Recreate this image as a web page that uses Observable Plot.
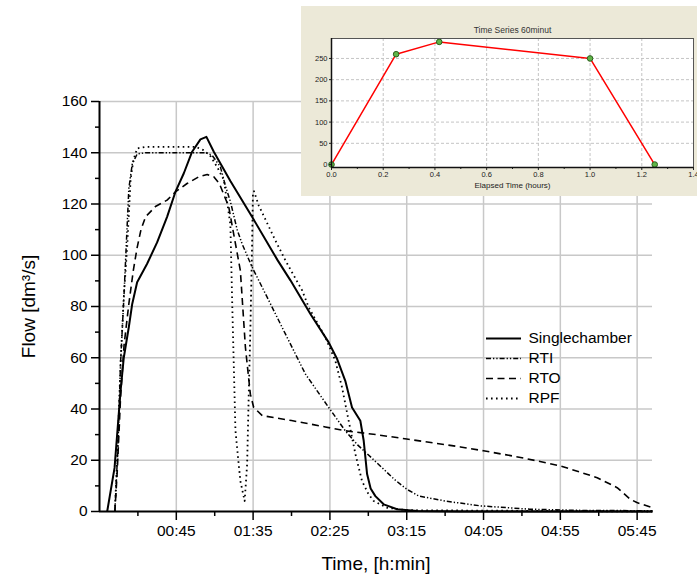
<!DOCTYPE html>
<html><head><meta charset="utf-8">
<script src="https://cdn.jsdelivr.net/npm/d3@7"></script>
<script src="https://cdn.jsdelivr.net/npm/@observablehq/plot@0.6"></script>
<style>
html,body{margin:0;padding:0;background:#fff;overflow:hidden;}
#wrap{position:relative;width:697px;height:575px;overflow:hidden;}
#wrap > svg{position:absolute;overflow:visible;}
</style></head><body><div id="wrap"></div>
<script>
// ---- data: [minutes, flow dm3/s] ----
const singlechamber = [[0,0],[4.8,17],[8.7,47],[10.8,60],[14.1,72],[16.3,81],[19.5,89.5],[26,96.7],[32.5,105],[39,115],[44.4,124.7],[49.9,132],[55.3,140.4],[60.7,145.2],[64.6,146.2],[69.4,140.4],[80.2,129],[94.3,115],[111,98],[119.3,90.2],[132.3,77.1],[144.2,66],[149.7,59.5],[155,51],[159.4,40.6],[164.8,35.4],[167,27.6],[169.2,14.6],[171.5,9],[174.6,6],[180,2.8],[188.7,0.9],[201.7,0.2],[230,0],[355,0]];
const rti = [[5,0],[7,25],[8.7,58],[11,85],[12.5,105],[14.1,126],[16.3,135.5],[19.5,139.5],[25,140],[64,140],[68.3,139],[73.7,134.5],[77,127],[80.2,121],[84.6,110],[87.8,104.5],[94.3,95.4],[103,85],[116,69.3],[129,53.7],[144.2,40.6],[155,31.5],[163,26],[172,21],[180,16.5],[187,12.5],[195,8.7],[203,6],[221,4],[243,2.2],[275,0.9],[310,0.4],[355,0.3]];
const rto = [[5,0],[6.5,15],[8.7,44.5],[11,65],[14.1,81],[17,94],[19.5,103],[22,110],[25,115],[31.4,119],[39,121.5],[44.4,124.7],[52,128],[59.6,130.6],[65.1,131.5],[69.4,130.6],[73,128],[79.1,119],[86.7,94],[90,64],[93.2,45.8],[95.4,40.6],[101,37.4],[120,35.5],[142,33],[155,31.5],[175,30],[195,28.3],[230,25.2],[245,23.7],[270,21],[295,17.8],[319,13.2],[332,9.3],[340.5,4.8],[344.8,3.5],[355,1.5]];
const rpf = [[5,0],[7,28],[8.7,57.6],[10.8,83.6],[13,103],[15.2,129.3],[17,137],[19.5,141.7],[25,142.3],[57.5,142.3],[62.9,141],[67.5,138.5],[72,134],[76,129.3],[80.2,112],[81.3,83.6],[82.4,57.6],[83.5,31.5],[86.7,11.9],[89.5,4.1],[91.1,18.5],[92.1,44.5],[93.2,70.6],[94.3,103],[94.9,124.7],[95.6,125],[98.6,119.5],[109.5,105.8],[116,98],[126.9,86.3],[131.2,79.7],[142,68],[148.5,58.9],[152.9,48.4],[157.2,35.4],[161.6,22.4],[165.9,11.9],[170.2,6.7],[173.5,4.1],[182,1.5],[195,0.5],[355,0]];
const seriesNames = ["Singlechamber","RTI","RTO","RPF"];
const xMajor = [45,95,145,195,245,295,345];
const xMinor = [20,70,120,170,220,270,320];
const yMajor = [0,20,40,60,80,100,120,140,160];
const yMinor = [10,30,50,70,90,110,130,150];
// inset data
const insetHours = [0,0.25,0.4167,1.0,1.25];
const insetValues = [0,260,289,250,0];
const insetXLabels = [0,0.2,0.4,0.6,0.8,1,1.2,1.4];
const insetXMinor = [0.1,0.3,0.5,0.7,0.9,1.1,1.3];
const insetYTicks = [0,50,100,150,200,250];

const styles = {
  "Singlechamber": {data: singlechamber, strokeWidth: 2, dash: null},
  "RTI": {data: rti, strokeWidth: 1.5, dash: "5,2,1.3,2,1.3,2"},
  "RTO": {data: rto, strokeWidth: 1.6, dash: "7,4.5"},
  "RPF": {data: rpf, strokeWidth: 1.8, dash: "1.6,3.4"}
};
const fmt = m => String(Math.floor(m/60)).padStart(2,"0") + ":" + String(m%60).padStart(2,"0");
const FONT = "'Liberation Sans', Arial, sans-serif";
const wrap = document.getElementById("wrap");

const lineMarks = seriesNames.map(n => Plot.line(styles[n].data, {
  x: d => d[0], y: d => d[1], stroke: "#000", strokeWidth: styles[n].strokeWidth,
  strokeDasharray: styles[n].dash || undefined, strokeLinejoin: "round", strokeLinecap: "butt"
}));

const main = Plot.plot({
  width: 697, height: 575,
  marginLeft: 99, marginRight: 45, marginTop: 101, marginBottom: 64,
  x: {domain: [-5, 355]},
  y: {domain: [0, 160]},
  style: {fontFamily: FONT, fontSize: "15.5px", background: "transparent", color: "#000"},
  marks: [
    Plot.gridX(xMajor, {stroke: "#c8c8c8", strokeOpacity: 1, strokeWidth: 1.5}),
    Plot.gridY(yMajor.filter(v => v > 0), {stroke: "#c8c8c8", strokeOpacity: 1, strokeWidth: 1.5}),
    ...lineMarks,
    Plot.axisX(xMajor, {tickSize: 9, tickPadding: 4, tickFormat: fmt, strokeWidth: 1.5, label: null}),
    Plot.axisX(xMinor, {tickSize: 5, tickFormat: () => "", strokeWidth: 1.5, label: null}),
    Plot.axisY(yMajor, {tickSize: 8, tickPadding: 4, strokeWidth: 1.5, label: null}),
    Plot.axisY(yMinor, {tickSize: 4, tickFormat: () => "", strokeWidth: 1.5, label: null}),
    Plot.ruleX([-5], {strokeWidth: 2}),
    Plot.ruleY([0], {strokeWidth: 2}),
    Plot.text(["Time, [h:min]"], {frameAnchor: "bottom", dy: 52, lineAnchor: "middle", textAnchor: "middle", fontSize: 19}),
    Plot.text(["Flow [dm³/s]"], {frameAnchor: "left", dx: -71, rotate: -90, textAnchor: "middle", lineAnchor: "middle", fontSize: 19})
  ]
});
main.style.left = "0px"; main.style.top = "0px";
wrap.appendChild(main);

// inset
const insetData = insetHours.map((h, i) => ({h, v: insetValues[i]}));
const inset = Plot.plot({
  width: 396, height: 190,
  marginLeft: 30, marginRight: 4, marginTop: 32, marginBottom: 29,
  x: {domain: [0, 1.4]},
  y: {domain: [-7, 297]},
  style: {fontFamily: FONT, fontSize: "7.5px", background: "#ECE9D8", color: "#222", overflow: "visible"},
  marks: [
    Plot.frame({fill: "#fff", stroke: null}),
    Plot.gridX(insetXLabels.filter(v => v > 0 && v < 1.4), {stroke: "#c4c4c4", strokeOpacity: 1, strokeDasharray: "3,2"}),
    Plot.gridY(insetYTicks.filter(v => v > 0), {stroke: "#c4c4c4", strokeOpacity: 1, strokeDasharray: "3,2"}),
    Plot.line(insetData, {x: "h", y: "v", stroke: "#ff0000", strokeWidth: 1.5}),
    Plot.dot(insetData, {x: "h", y: "v", r: 2.8, fill: "#5fb548", stroke: "#2c5e1c", strokeWidth: 1}),
    Plot.frame({stroke: "#555", strokeWidth: 1}),
    Plot.axisX(insetXLabels, {tickSize: 3, tickPadding: 1.5, label: null, stroke: "#222"}),
    Plot.axisX(insetXMinor, {tickSize: 2, tickFormat: () => "", label: null, stroke: "#222"}),
    Plot.axisY(insetYTicks, {tickSize: 2, tickPadding: 2, label: null, stroke: "#222"}),
    Plot.ruleX([0], {stroke: "#111", strokeWidth: 1.5}),
    Plot.ruleY([-7], {stroke: "#111", strokeWidth: 1.5}),
    Plot.text(["Time Series 60minut"], {frameAnchor: "top", dy: -8, lineAnchor: "middle", textAnchor: "middle", fontSize: 8.5, fill: "#333"}),
    Plot.text(["Elapsed Time (hours)"], {frameAnchor: "bottom", dy: 18, lineAnchor: "middle", textAnchor: "middle", fontSize: 8, fill: "#222"})
  ]
});
inset.style.left = "301px"; inset.style.top = "6px";
wrap.appendChild(inset);

// legend
const legendMarks = seriesNames.map(n => Plot.ruleY([n], {
  x1: 0, x2: 1, y: d => d, stroke: "#000", strokeWidth: styles[n].strokeWidth,
  strokeDasharray: styles[n].dash || undefined
}));
const legend = Plot.plot({
  width: 150, height: 90,
  marginLeft: 6, marginRight: 109, marginTop: 13, marginBottom: 17,
  x: {domain: [0, 1], axis: null},
  y: {domain: seriesNames, type: "point", padding: 0, axis: null},
  style: {fontFamily: FONT, fontSize: "15.5px", background: "transparent", color: "#000", overflow: "visible"},
  marks: [
    ...legendMarks,
    Plot.text(seriesNames, {x: 1, y: d => d, dx: 7, textAnchor: "start", lineAnchor: "middle"})
  ]
});
legend.style.left = "480px"; legend.style.top = "325px";
wrap.appendChild(legend);
</script></body></html>
